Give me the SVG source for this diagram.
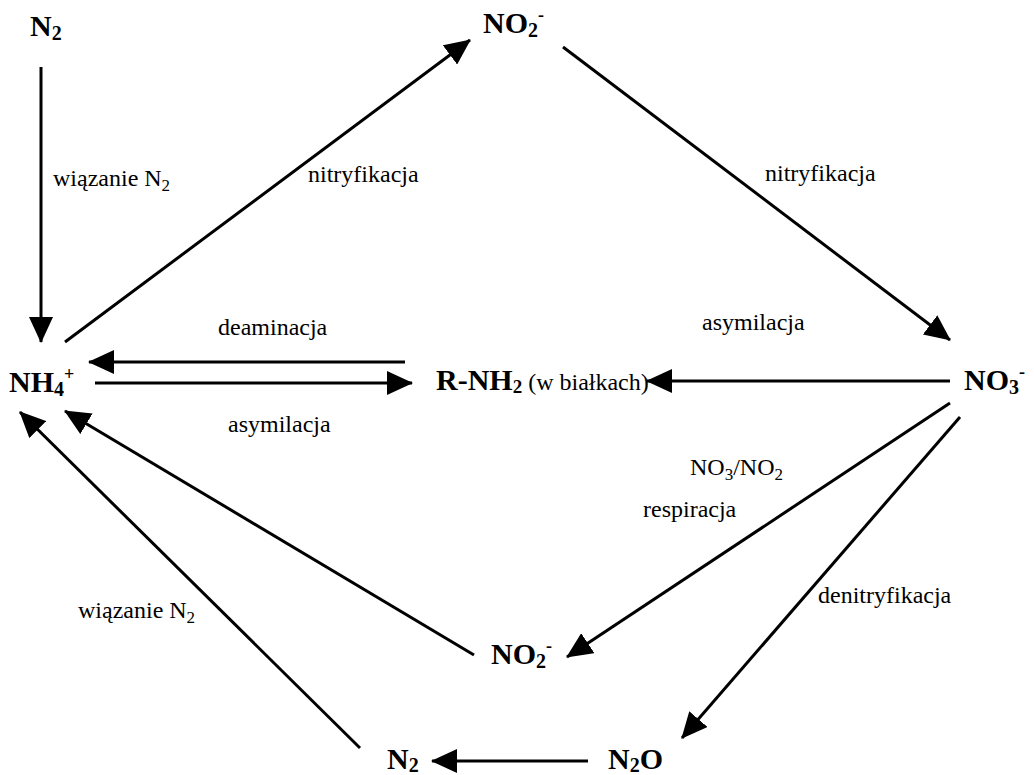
<svg xmlns="http://www.w3.org/2000/svg" width="1034" height="775" viewBox="0 0 1034 775">
<defs>
<marker id="ah" viewBox="0 0 26 24" refX="25" refY="12" markerWidth="26" markerHeight="24" markerUnits="userSpaceOnUse" orient="auto">
<path d="M0,0 L26,12 L0,24 z" fill="#000"/>
</marker>
<style>
.sp{font-family:"Liberation Serif","Times New Roman",serif;font-weight:bold;font-size:30px;fill:#000}
.lb{font-family:"Liberation Serif","Times New Roman",serif;font-size:24px;fill:#000}
.ln{stroke:#000;stroke-width:3;fill:none;marker-end:url(#ah)}
</style>
</defs>
<rect width="1034" height="775" fill="#fff"/>
<g id="connectors">
<line class="ln" x1="41" y1="67" x2="41" y2="342"/>
<line class="ln" x1="65" y1="342" x2="470" y2="40"/>
<line class="ln" x1="563" y1="47" x2="950" y2="340"/>
<line class="ln" x1="405" y1="362" x2="89" y2="362"/>
<line class="ln" x1="95" y1="383" x2="412" y2="383"/>
<line class="ln" x1="950" y1="381" x2="647" y2="381"/>
<line class="ln" x1="950" y1="403" x2="567" y2="657"/>
<line class="ln" x1="960" y1="417" x2="682" y2="738"/>
<line class="ln" x1="588" y1="761" x2="432" y2="761"/>
<line class="ln" x1="360" y1="748" x2="20" y2="412"/>
<line class="ln" x1="474" y1="655" x2="65" y2="411"/>
<text class="lb" x="53" y="186">wiązanie N<tspan font-size="17" dy="5">2</tspan></text>
<text class="lb" x="308" y="182">nitryfikacja</text>
<text class="lb" x="765" y="181">nitryfikacja</text>
<text class="lb" x="218" y="335">deaminacja</text>
<text class="lb" x="228" y="432">asymilacja</text>
<text class="lb" x="702" y="330">asymilacja</text>
<text class="lb" x="690" y="475">NO<tspan font-size="17" dy="5">3</tspan><tspan dy="-5">/NO</tspan><tspan font-size="17" dy="5">2</tspan></text>
<text class="lb" x="643" y="517">respiracja</text>
<text class="lb" x="818" y="603">denitryfikacja</text>
<text class="lb" x="78" y="618">wiązanie N<tspan font-size="17" dy="5">2</tspan></text>
</g>
<g id="n2top"><text class="sp" x="30" y="36">N<tspan font-size="20" dy="4">2</tspan></text></g>
<g id="no2top"><text class="sp" x="483" y="33">NO<tspan font-size="20" dy="4">2</tspan><tspan font-size="18" dy="-16">-</tspan></text></g>
<g id="nh4"><text class="sp" x="9" y="392">NH<tspan font-size="20" dy="4">4</tspan><tspan font-size="18" dy="-16">+</tspan></text></g>
<g id="rnh2"><text class="sp" x="436" y="390" font-size="28">R-NH<tspan font-size="19" dy="3">2</tspan><tspan class="lb" font-weight="normal" font-size="22" dy="-3"> (w białkach)</tspan></text></g>
<g id="no3"><text class="sp" x="964" y="390">NO<tspan font-size="20" dy="4">3</tspan><tspan font-size="18" dy="-16">-</tspan></text></g>
<g id="no2bot"><text class="sp" x="491" y="664">NO<tspan font-size="20" dy="4">2</tspan><tspan font-size="18" dy="-16">-</tspan></text></g>
<g id="n2o"><text class="sp" x="608" y="769">N<tspan font-size="20" dy="3">2</tspan><tspan dy="-3">O</tspan></text></g>
<g id="n2bot"><text class="sp" x="387" y="769">N<tspan font-size="20" dy="3">2</tspan></text></g>
</svg>
